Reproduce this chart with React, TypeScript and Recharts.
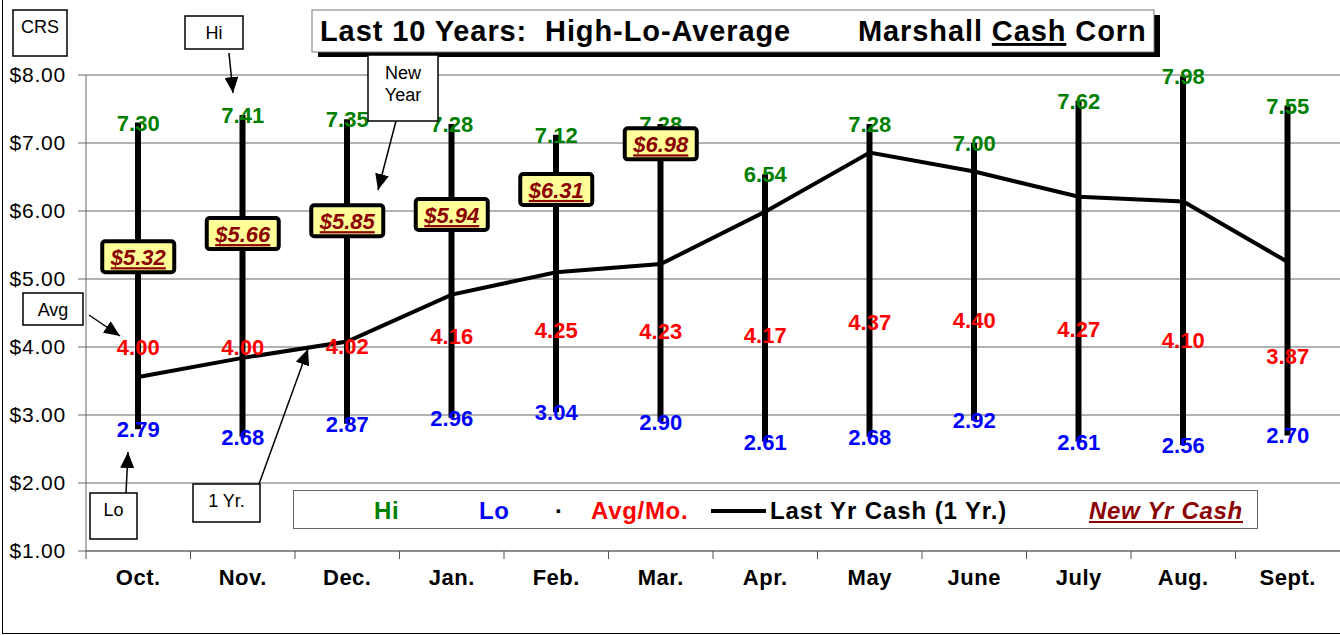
import React from "react";
import { Bar, CartesianGrid, ComposedChart, Legend, Line, Scatter, XAxis, YAxis } from "recharts";

const months = ["Oct.", "Nov.", "Dec.", "Jan.", "Feb.", "Mar.", "Apr.", "May", "June", "July", "Aug.", "Sept."];
const hiValues = [7.3, 7.41, 7.35, 7.28, 7.12, 7.28, 6.54, 7.28, 7.0, 7.62, 7.98, 7.55];
const loValues = [2.79, 2.68, 2.87, 2.96, 3.04, 2.9, 2.61, 2.68, 2.92, 2.61, 2.56, 2.7];
const avgValues = [4.0, 4.0, 4.02, 4.16, 4.25, 4.23, 4.17, 4.37, 4.4, 4.27, 4.1, 3.87];
const lastYrCash = [3.56, 3.84, 4.08, 4.77, 5.1, 5.22, 5.99, 6.86, 6.58, 6.21, 6.14, 5.25];
const newYrCash = [5.32, 5.66, 5.85, 5.94, 6.31, 6.98, null, null, null, null, null, null];
const yTicks = [1, 2, 3, 4, 5, 6, 7, 8];

const data = months.map((month, i) => ({
  month,
  range: [loValues[i], hiValues[i]],
  hi: hiValues[i],
  lo: loValues[i],
  avg: avgValues[i],
  lastYr: lastYrCash[i],
  newYr: newYrCash[i]
}));

const FONT = '"Liberation Sans", Arial, sans-serif';
const CHART_W = 1340;
const CHART_H = 635;
const Y_AXIS_W = 86;
const BAND = (CHART_W - Y_AXIS_W) / months.length;

const MonthTick = ({ x, y, payload }: any) => (
  <g>
    <line x1={x - BAND / 2} x2={x - BAND / 2} y1={y - 8} y2={y} stroke="#555" />
    <text
      x={x}
      y={y + 26}
      textAnchor="middle"
      fontFamily={FONT}
      fontWeight="bold"
      fontSize={22}
      letterSpacing={0.5}
      fill="#000"
    >
      {payload.value}
    </text>
  </g>
);

const DollarTick = ({ x, y, payload }: any) => (
  <text x={x} y={y + 7} textAnchor="end" fontFamily={FONT} fontSize={21} letterSpacing={0.8} fill="#000">
    {`$${Number(payload.value).toFixed(2)}`}
  </text>
);

const valueLabel = (field: "hi" | "lo" | "avg", color: string) => (props: any) => {
  const { cx, cy, payload } = props;
  if (payload[field] == null) return <g />;
  return (
    <text x={cx} y={cy + 8} textAnchor="middle" fontFamily={FONT} fontWeight="bold" fontSize={22} fill={color}>
      {payload[field].toFixed(2)}
    </text>
  );
};

const NewYrBox = (props: any) => {
  const { cx, cy, payload } = props;
  if (payload.newYr == null) return <g />;
  return (
    <g>
      <rect x={cx - 36} y={cy - 16} width={72} height={31} rx={3} fill="#FFFF99" stroke="#000" strokeWidth={4} />
      <text
        x={cx}
        y={cy + 8}
        textAnchor="middle"
        fontFamily={FONT}
        fontWeight="bold"
        fontStyle="italic"
        fontSize={22}
        fill="#8B0000"
        textDecoration="underline"
      >
        {`$${payload.newYr.toFixed(2)}`}
      </text>
    </g>
  );
};

const LegendBox = () => (
  <div
    style={{
      position: "relative",
      width: 965,
      height: 39,
      border: "1px solid #666",
      background: "#fff",
      fontFamily: FONT,
      fontWeight: "bold",
      fontSize: 24,
      letterSpacing: 0.7,
      lineHeight: "39px",
      boxSizing: "border-box"
    }}
  >
    <span style={{ position: "absolute", left: 80, color: "#008000" }}>Hi</span>
    <span style={{ position: "absolute", left: 185, color: "#0000FF" }}>Lo</span>
    <span style={{ position: "absolute", left: 261, color: "#000" }}>·</span>
    <span style={{ position: "absolute", left: 297, color: "#FF0000" }}>Avg/Mo.</span>
    <span style={{ position: "absolute", left: 417, top: 18, width: 55, height: 4, background: "#000" }} />
    <span style={{ position: "absolute", left: 476, color: "#000", letterSpacing: 0.9 }}>Last Yr Cash (1 Yr.)</span>
    <span style={{ position: "absolute", left: 795, color: "#8B0000", fontStyle: "italic", textDecoration: "underline" }}>
      New Yr Cash
    </span>
  </div>
);

const Callout = ({ x, y, w, h, lines, baseline }: any) => (
  <g>
    <rect x={x} y={y} width={w} height={h} fill="#fff" stroke="#000" strokeWidth={1.5} />
    {lines.map((t: string, i: number) => (
      <text key={t} x={x + w / 2} y={baseline + i * 22} textAnchor="middle" fontFamily={FONT} fontSize={18} fill="#000">
        {t}
      </text>
    ))}
  </g>
);

const Annotations = () => (
  <svg width={CHART_W} height={CHART_H} style={{ position: "absolute", left: 0, top: 0, pointerEvents: "none" }}>
    <defs>
      <marker id="head" markerUnits="userSpaceOnUse" markerWidth={16} markerHeight={14} refX={16} refY={7} orient="auto">
        <path d="M0,0 L16,7 L0,14 z" fill="#000" />
      </marker>
    </defs>
    {/* title */}
    <rect x={318} y={15} width={842} height={42} fill="#000" />
    <rect x={312} y={10} width={842} height={42} fill="#fff" stroke="#777" strokeWidth={1} />
    <text
      x={320}
      y={41}
      fontFamily={FONT}
      fontWeight="bold"
      fontSize={29}
      letterSpacing={0.9}
      fill="#000"
      style={{ whiteSpace: "pre" }}
    >
      {"Last 10 Years:  High-Lo-Average"}
    </text>
    <text
      x={858}
      y={41}
      fontFamily={FONT}
      fontWeight="bold"
      fontSize={29}
      letterSpacing={0.9}
      fill="#000"
      style={{ whiteSpace: "pre" }}
    >
      {"Marshall "}
      <tspan textDecoration="underline">Cash</tspan>
      {" Corn"}
    </text>

    <Callout x={13} y={10} w={54} h={46} lines={["CRS"]} baseline={33} />
    <Callout x={185} y={16} w={58} h={33} lines={["Hi"]} baseline={39} />
    <Callout x={368} y={55} w={70} h={66} lines={["New", "Year"]} baseline={79} />
    <Callout x={23} y={293} w={60} h={32} lines={["Avg"]} baseline={316} />
    <Callout x={90} y={493} w={47} h={46} lines={["Lo"]} baseline={516} />
    <Callout x={193} y={484} w={67} h={38} lines={["1 Yr."]} baseline={507} />

    <line x1={229} y1={53} x2={233} y2={93} stroke="#000" strokeWidth={1.5} markerEnd="url(#head)" />
    <line x1={396} y1={121} x2={378} y2={190} stroke="#000" strokeWidth={1.5} markerEnd="url(#head)" />
    <line x1={89} y1={315} x2={120} y2={336} stroke="#000" strokeWidth={1.5} markerEnd="url(#head)" />
    <line x1={126} y1={493} x2={128} y2={452} stroke="#000" strokeWidth={1.5} markerEnd="url(#head)" />
    <line x1={259} y1={484} x2={308} y2={349} stroke="#000" strokeWidth={1.5} markerEnd="url(#head)" />
  </svg>
);

export default function App() {
  return (
    <div style={{ position: "absolute", left: 0, top: 0, width: CHART_W, height: CHART_H, background: "#fff" }}>
      <div
        style={{
          position: "absolute",
          left: 2,
          top: 0,
          width: CHART_W,
          height: CHART_H - 2,
          borderLeft: "1.5px solid #000",
          borderBottom: "1.5px solid #000"
        }}
      />
      <ComposedChart width={CHART_W} height={CHART_H} data={data} margin={{ top: 75, right: 0, bottom: 0, left: 0 }}>
        <CartesianGrid vertical={false} stroke="#666" />
        <XAxis
          dataKey="month"
          height={84}
          stroke="#666"
          tickLine={false}
          tickSize={8}
          tickMargin={0}
          tick={<MonthTick />}
          interval={0}
        />
        <YAxis
          domain={[1, 8]}
          ticks={yTicks}
          width={Y_AXIS_W}
          stroke="#666"
          tickSize={8}
          tickMargin={12}
          tick={<DollarTick />}
          interval={0}
        />
        <Scatter dataKey="hi" isAnimationActive={false} shape={valueLabel("hi", "#008000")} />
        <Scatter dataKey="lo" isAnimationActive={false} shape={valueLabel("lo", "#0000FF")} />
        <Scatter dataKey="avg" isAnimationActive={false} shape={valueLabel("avg", "#FF0000")} />
        <Bar dataKey="range" barSize={6} fill="#000" isAnimationActive={false} />
        <Line dataKey="lastYr" stroke="#000" strokeWidth={4} dot={false} isAnimationActive={false} />
        <Scatter dataKey="newYr" isAnimationActive={false} shape={<NewYrBox />} />
        <Legend
          layout="horizontal"
          verticalAlign="middle"
          align="center"
          content={<LegendBox />}
          wrapperStyle={{ position: "absolute", left: 293, top: 490, width: 965, height: 39 }}
        />
      </ComposedChart>
      <Annotations />
    </div>
  );
}
